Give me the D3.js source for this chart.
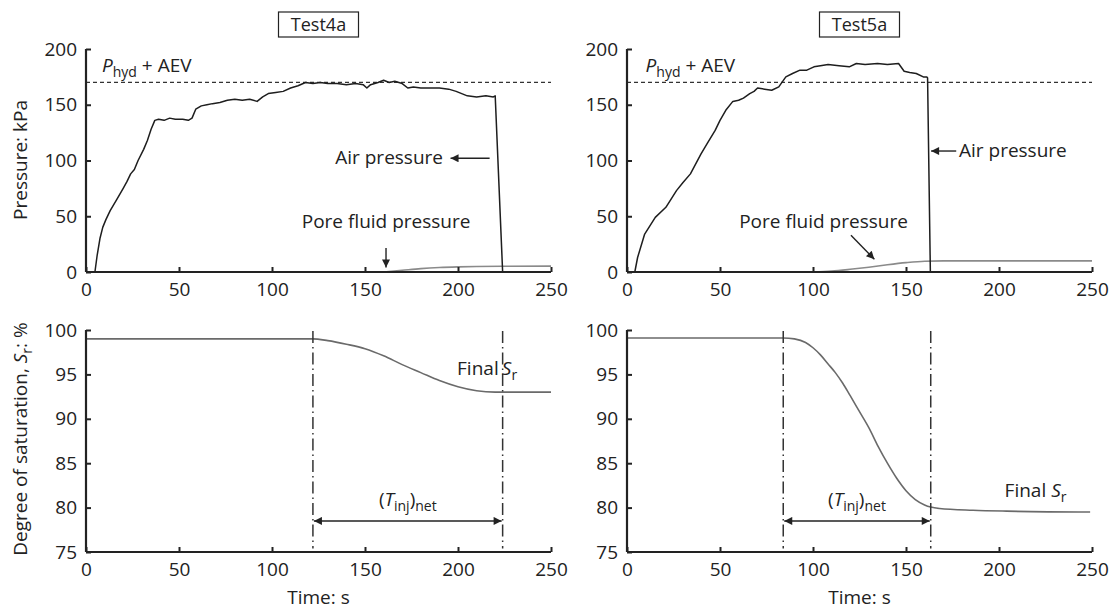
<!DOCTYPE html>
<html><head><meta charset="utf-8">
<script src="https://cdn.jsdelivr.net/npm/d3@7"></script>
<style>
body{margin:0;background:#fff;}
svg text{font-family:"Open Sans","Noto Sans",sans-serif;fill:#222;}
</style></head>
<body><svg id="c" width="1114" height="612"></svg>
<script>
// ---------- data ----------
const timeTicks = [0, 50, 100, 150, 200, 250];
const pressureTicks = [0, 50, 100, 150, 200];
const satTicks = [75, 80, 85, 90, 95, 100];
const aevLevel = 170;
const testNames = ["Test4a", "Test5a"];

const t4AirTime = [4.8,6,7.5,9,10.7,13,16.5,20,22,24,26,28,31,33,35,37,39,42,45,48,52,55,57,59,62,65,68,72,76,80,84,88,92,95,98,102,106,110,114,118,122,126,130,135,140,145,149,151,153,157,160,163,166,170,173,176,180,185,190,195,199,202,205,210,215,219,220,224,230,240,250];
const t4AirKPa  = [0,15,30,40,47,55,65,75,81,88,92,100,110,118,128,136,137,136,138,137,137,136,138,146,149,150,151,152,154,155,154,155,153,157,160,161,162,165,167,170,169,170,169,169,168,169,168,165,168,170,172,170,171,169,165,166,165,165,165,164,162,160,158,157,158,157,158,0,0,0,0];
const t4PoreTime = [160,170,180,190,200,210,225,250];
const t4PoreKPa  = [0,1.5,3,4,4.6,5,5.2,5.3];

const t5AirTime = [4.2,5.7,9.5,15.2,20.9,26.6,30,34.1,39.8,43,47.4,50,53.1,56.9,60,62.6,66,68.3,70.2,74,77.8,81.6,85.4,89,93,96.7,100.5,104,108.1,114,119.5,123.3,128,134.7,140,146,149,152,155.5,159.3,161.2,161.6,163.1,170,180,200,220,250];
const t5AirKPa  = [0,13,34,49,58,73,80,88,106,115,127,136,145,153,154,156,160,162,165,164,163,166,175,178,181,181,184,185,186,185,184,187,186,187,186,187,180,179,178,175,175,174,0,0,0,0,0,0];
const t5PoreTime = [100,110,120,130,140,150,160,170,200,250];
const t5PoreKPa  = [0,0.8,2.4,4.3,6.5,8.4,9.7,10,10,10];

const t4SatTime = [0,50,100,122,130,140,150,160,170,180,190,200,210,220,230,250];
const t4SatPct  = [99,99,99,99,98.8,98.4,97.9,97.1,96.1,95.2,94.3,93.6,93.15,93.0,93.0,93.0];
const t5SatTime = [0,50,84,90,96,100,104,108,112,116,120,125,130,135,140,145,150,155,160,163.3,168,186,204,249];
const t5SatPct  = [99.1,99.1,99.1,99.0,98.6,98.0,97.2,96.2,95.2,94.0,92.6,90.8,89.0,86.9,85.0,83.3,81.9,80.9,80.3,80.06,79.9,79.7,79.6,79.5];

const injStart = [122, 84];    // s
const injEnd   = [224, 163.3]; // s

// ---------- layout ----------
const svg = d3.select("#c");
const colX = [[86, 551], [627, 1092]];
const topY = [272, 49], botY = [552, 330];
const FS = 19;

const defs = svg.append("defs");
function marker(id, orient){
  defs.append("marker").attr("id", id).attr("viewBox","0 0 10 10").attr("refX",10).attr("refY",5)
    .attr("markerWidth",12).attr("markerHeight",8).attr("markerUnits","userSpaceOnUse").attr("orient",orient)
    .append("path").attr("d","M0,0 L10,5 L0,10 Z").attr("fill","#222");
}
marker("ah","auto"); marker("ahs","auto-start-reverse");

function zip(a,b){return a.map((v,i)=>[v,b[i]]);}

function drawAxes(g, x, y, xTicks, yTicks){
  const xa = g.append("g").attr("transform",`translate(0,${y.range()[0]})`)
    .call(d3.axisBottom(x).tickValues(xTicks).tickSizeInner(-5).tickSizeOuter(0).tickPadding(11));
  const ya = g.append("g").attr("transform",`translate(${x.range()[0]},0)`)
    .call(d3.axisLeft(y).tickValues(yTicks).tickSizeInner(-5).tickSizeOuter(0).tickPadding(9));
  [xa,ya].forEach(a=>{
    a.select(".domain").attr("stroke","#222").attr("stroke-width",2.2);
    a.selectAll(".tick line").attr("stroke","#222").attr("stroke-width",2);
    a.selectAll(".tick text").attr("font-size",FS).attr("fill","#222").style("font-family","'Open Sans','Noto Sans',sans-serif");
  });
  xa.select(".domain").attr("d",`M${x.range()[0]},0H${x.range()[1]}`);
  ya.select(".domain").attr("d",`M0,${y.range()[0]}V${y.range()[1]}`);
}

const airT=[t4AirTime,t5AirTime], airP=[t4AirKPa,t5AirKPa];
const poreT=[t4PoreTime,t5PoreTime], poreP=[t4PoreKPa,t5PoreKPa];
const satT=[t4SatTime,t5SatTime], satP=[t4SatPct,t5SatPct];

// annotation anchors (data coordinates)
const airLabel = [{t:134,v:97, a1:217,a2:196, av:102}, {t:178.5,v:103, a1:177,a2:163.5, av:108.5}];
const poreLabel = [{t:116,v:39.5, at1:[161.3,21.5], at2:[161.3,4]}, {t:60.3,v:39.5, at1:[120.4,33], at2:[133,11.4]}];
const finalLabel = [{t:199.5,v:94.9},{t:203,v:81.2}];

for(let p=0;p<2;p++){
  const x = d3.scaleLinear().domain([0,250]).range(colX[p]);
  const yP = d3.scaleLinear().domain([0,200]).range(topY);
  const yS = d3.scaleLinear().domain([75,100]).range(botY);
  const g = svg.append("g");

  const cx = (colX[p][0]+colX[p][1])/2;
  g.append("rect").attr("x",cx-40).attr("y",12).attr("width",80).attr("height",25)
    .attr("fill","none").attr("stroke","#222").attr("stroke-width",1.2);
  g.append("text").attr("x",cx).attr("y",31).attr("text-anchor","middle").attr("font-size",18).text(testNames[p]);

  g.append("line").attr("x1",x(0)).attr("x2",x(250)).attr("y1",yP(aevLevel)).attr("y2",yP(aevLevel))
    .attr("stroke","#333").attr("stroke-width",1.3).attr("stroke-dasharray","4,3");
  const ph = g.append("text").attr("x",x(p===0?8.6:10)).attr("y",yP(179)).attr("font-size",FS);
  ph.append("tspan").attr("font-style","italic").text("P");
  ph.append("tspan").attr("font-size",14).attr("dy",5).text("hyd");
  ph.append("tspan").attr("dy",-5).text(" + AEV");

  g.append("path").datum(zip(poreT[p],poreP[p])).attr("d",d3.line().x(d=>x(d[0])).y(d=>yP(d[1])).curve(d3.curveMonotoneX))
    .attr("fill","none").attr("stroke","#8a8a8a").attr("stroke-width",1.6);
  g.append("path").datum(zip(airT[p],airP[p])).attr("d",d3.line().x(d=>x(d[0])).y(d=>yP(d[1])))
    .attr("fill","none").attr("stroke","#1e1e1e").attr("stroke-width",1.5).attr("stroke-linejoin","round");

  drawAxes(g, x, yP, timeTicks, pressureTicks);

  const al = airLabel[p];
  g.append("text").attr("x",x(al.t)).attr("y",yP(al.v)).attr("font-size",FS).text("Air pressure");
  g.append("line").attr("x1",x(al.a1)).attr("x2",x(al.a2)).attr("y1",yP(al.av)).attr("y2",yP(al.av))
    .attr("stroke","#222").attr("stroke-width",1.4).attr("marker-end","url(#ah)");
  const pl = poreLabel[p];
  g.append("text").attr("x",x(pl.t)).attr("y",yP(pl.v)).attr("font-size",FS).text("Pore fluid pressure");
  g.append("line").attr("x1",x(pl.at1[0])).attr("y1",yP(pl.at1[1])).attr("x2",x(pl.at2[0])).attr("y2",yP(pl.at2[1]))
    .attr("stroke","#222").attr("stroke-width",1.4).attr("marker-end","url(#ah)");

  // ---- saturation panel ----
  const gs = svg.append("g");
  const sline = d3.line().x(d=>x(d[0])).y(d=>yS(d[1])).curve(d3.curveMonotoneX);
  gs.append("path").datum(zip(satT[p],satP[p])).attr("d",sline)
    .attr("fill","none").attr("stroke","#6a6a6a").attr("stroke-width",1.6);
  [injStart[p], injEnd[p]].forEach(t=>{
    gs.append("line").attr("x1",x(t)).attr("x2",x(t)).attr("y1",yS(99.9)).attr("y2",yS(75.4))
      .attr("stroke","#333").attr("stroke-width",1.5).attr("stroke-dasharray","12,4,1.5,4");
  });
  drawAxes(gs, x, yS, timeTicks, satTicks);
  gs.append("line").attr("x1",x(injStart[p])+1).attr("x2",x(injEnd[p])-1).attr("y1",yS(78.5)).attr("y2",yS(78.5))
    .attr("stroke","#222").attr("stroke-width",1.5).attr("marker-end","url(#ah)").attr("marker-start","url(#ahs)");
  const tl = gs.append("text").attr("x",x((injStart[p]+injEnd[p])/2)).attr("y",yS(80.2)).attr("text-anchor","middle").attr("font-size",FS);
  tl.append("tspan").text("(");
  tl.append("tspan").attr("font-style","italic").text("T");
  tl.append("tspan").attr("font-size",14).attr("dy",5).text("inj");
  tl.append("tspan").attr("dy",-5).text(")");
  tl.append("tspan").attr("font-size",14).attr("dy",5).text("net");
  const fl = finalLabel[p];
  const ft = gs.append("text").attr("x",x(fl.t)).attr("y",yS(fl.v)).attr("font-size",FS);
  ft.append("tspan").text(p===0?"Final\u2009":"Final ");
  ft.append("tspan").attr("font-style","italic").text("S");
  ft.append("tspan").attr("font-size",14).attr("dy",5).text("r");

  svg.append("text").attr("x",cx).attr("y",604).attr("text-anchor","middle").attr("font-size",FS).text("Time: s");
}

svg.append("text").attr("transform","translate(27,160) rotate(-90)").attr("text-anchor","middle").attr("font-size",FS).text("Pressure: kPa");
const yl = svg.append("text").attr("transform","translate(27,439) rotate(-90)").attr("text-anchor","middle").attr("font-size",FS);
yl.append("tspan").text("Degree of saturation, ");
yl.append("tspan").attr("font-style","italic").text("S");
yl.append("tspan").attr("font-size",14).attr("dy",5).text("r");
yl.append("tspan").attr("dy",-5).text(": %");
</script></body></html>
